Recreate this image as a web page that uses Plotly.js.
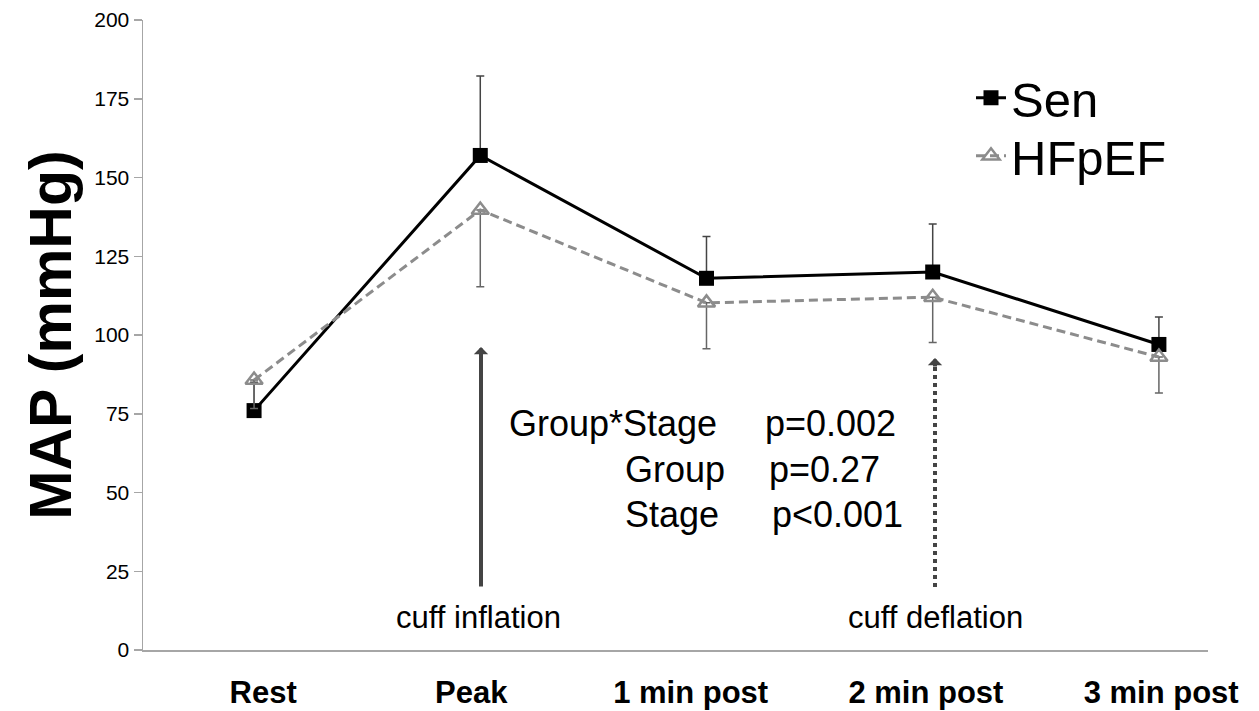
<!DOCTYPE html>
<html>
<head>
<meta charset="utf-8">
<script src="https://cdn.plot.ly/plotly-3.0.1.min.js"></script>
<style>html,body{margin:0;padding:0;background:#fff;}#chart{width:1259px;height:711px;}</style>
</head>
<body>
<div id="chart"></div>
<script>
// ---- data ----
const stages = ["Rest", "Peak", "1 min post", "2 min post", "3 min post"];
const senMean = [76, 157, 118, 120, 97];
const senSD = [9, 25.2, 13.3, 15.2, 8.7];          // drawn upward
const hfpefMean = [85.7, 139.7, 110.2, 112, 93];
const hfpefSD = [9, 24.4, 14.6, 14.4, 11.4];        // drawn downward
const yTicks = [0, 25, 50, 75, 100, 125, 150, 175, 200];
const tickPos = [0.04, 0.96, 1.93, 2.97, 4.01];     // label centres as placed in the original
const statLabels = ["Group*Stage", "Group", "Stage"];
const statValues = ["p=0.002", "p=0.27", "p<0.001"];
const eventLabels = ["cuff inflation", "cuff deflation"];

// ---- layout helpers (pixel -> paper) ----
const L = 143, R = 1208, T = 20, B = 650;
const px = x => (x - L) / (R - L);
const py = y => (B - y) / (B - T);
const FONT = "Liberation Sans, Arial, Helvetica, sans-serif";

const idx = stages.map((_, i) => i);

const traces = [
  {
    x: idx, y: senMean, name: "Sen", type: "scatter", mode: "lines+markers", legend: "legend",
    line: {color: "#000", width: 3},
    marker: {symbol: "square", size: 15, color: "#000"},
    error_y: {type: "data", symmetric: false, array: senSD, arrayminus: senSD.map(() => 0),
              color: "#444", thickness: 1.5, width: 4}
  },
  {
    x: idx, y: hfpefMean, name: "HFpEF", type: "scatter", mode: "lines+markers", legend: "legend2",
    line: {color: "#8c8c8c", width: 3, dash: "9px,5px"},
    marker: {symbol: "triangle-up-open", size: 15, color: "#8c8c8c", line: {width: 2.5, color: "#8c8c8c"}},
    error_y: {type: "data", symmetric: false, array: hfpefSD.map(() => 0), arrayminus: hfpefSD,
              color: "#666", thickness: 1.5, width: 4}
  }
];

const annotations = [];
// stats block
const statLabelX = [507, 623, 623];
const statValueX = [763, 767, 770];
const statY = [424, 469, 514];
for (let i = 0; i < statLabels.length; i++) {
  annotations.push({xref: "paper", yref: "paper", x: px(statLabelX[i]), y: py(statY[i]),
    xanchor: "left", yanchor: "middle", text: statLabels[i], showarrow: false,
    font: {family: FONT, size: 36, color: "#000"}});
  annotations.push({xref: "paper", yref: "paper", x: px(statValueX[i]), y: py(statY[i]),
    xanchor: "left", yanchor: "middle", text: statValues[i], showarrow: false,
    font: {family: FONT, size: 36, color: "#000"}});
}
// event labels
const eventX = [478, 935];
for (let i = 0; i < eventLabels.length; i++) {
  annotations.push({xref: "paper", yref: "paper", x: px(eventX[i]), y: py(617),
    xanchor: "center", yanchor: "middle", text: eventLabels[i], showarrow: false,
    font: {family: FONT, size: 31, color: "#000"}});
}
// solid arrow (cuff inflation)
annotations.push({xref: "paper", yref: "paper", axref: "paper", ayref: "paper",
  x: px(481), y: py(347), ax: px(481), ay: py(588), text: "", showarrow: true,
  arrowhead: 1, arrowsize: 0.6, arrowwidth: 4, arrowcolor: "#444"});
// dotted arrow head (cuff deflation)
annotations.push({xref: "paper", yref: "paper", axref: "paper", ayref: "paper",
  x: px(935), y: py(358), ax: px(935), ay: py(368), text: "", showarrow: true,
  arrowhead: 1, arrowsize: 0.6, arrowwidth: 4, arrowcolor: "#444"});

const shapes = [
  {type: "line", xref: "paper", yref: "paper", x0: px(935), x1: px(935), y0: py(587), y1: py(366),
   line: {color: "#444", width: 4, dash: "dot"}}
];

const legendBase = {xanchor: "left", yanchor: "middle",
  font: {family: FONT, size: 49, color: "#000"}, bgcolor: "rgba(0,0,0,0)", itemwidth: 30};

const layout = {
  width: 1259, height: 711,
  margin: {l: L, r: 1259 - R, t: T, b: 711 - B},
  paper_bgcolor: "#fff", plot_bgcolor: "#fff",
  showlegend: true,
  legend: Object.assign({x: px(971), y: py(98)}, legendBase),
  legend2: Object.assign({x: px(971), y: py(156)}, legendBase),
  xaxis: {
    range: [-0.491, 4.217], tickvals: tickPos, ticktext: stages,
    showline: true, linecolor: "#a6a6a6", linewidth: 1.5,
    showgrid: false, zeroline: false, ticks: "",
    ticklabelstandoff: 14,
    tickfont: {family: FONT, size: 31, color: "#000", weight: "bold"}
  },
  yaxis: {
    range: [0, 200], tickvals: yTicks, ticktext: yTicks.map(String),
    showline: true, linecolor: "#a6a6a6", linewidth: 1.5,
    showgrid: false, zeroline: false, ticks: "outside", ticklen: 8, tickcolor: "#a6a6a6", tickwidth: 1.5,
    tickfont: {family: FONT, size: 21, color: "#000"},
    title: {text: "MAP (mmHg)", standoff: 3, font: {family: FONT, size: 59, color: "#000", weight: "bold"}}
  },
  annotations: annotations,
  shapes: shapes,
  font: {family: FONT}
};

Plotly.newPlot("chart", traces, layout, {displayModeBar: false, staticPlot: true});
</script>
</body>
</html>
